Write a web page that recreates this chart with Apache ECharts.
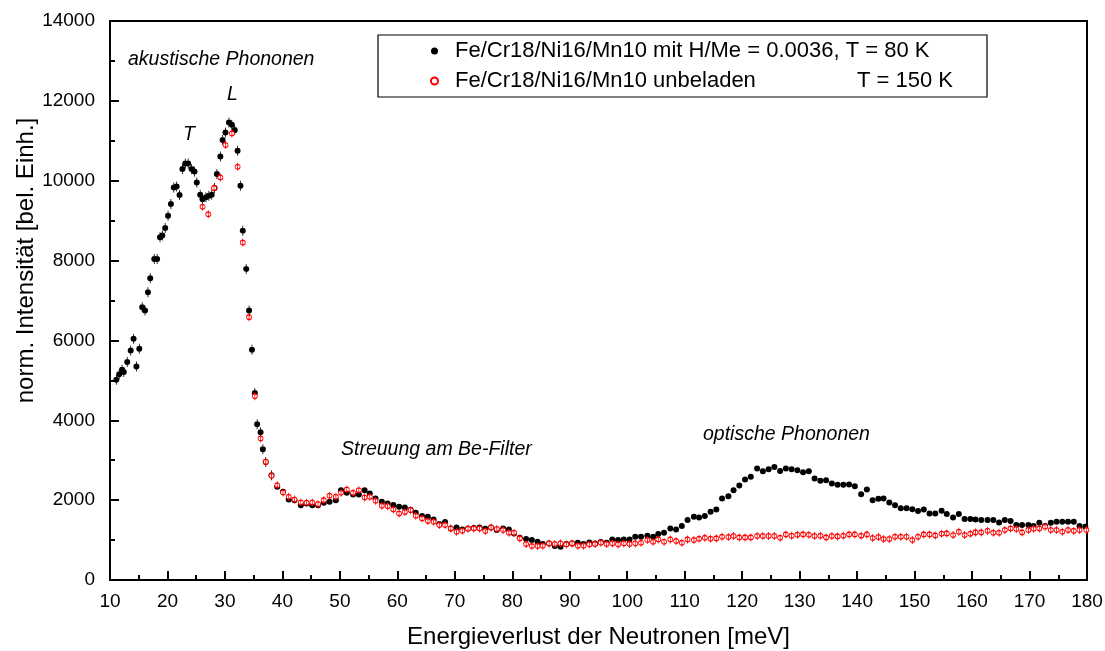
<!DOCTYPE html>
<html>
<head>
<meta charset="utf-8">
<script src="https://cdn.jsdelivr.net/npm/echarts@6/dist/echarts.min.js"></script>
<style>
html,body{margin:0;padding:0;background:#fff;}
#chart{width:1105px;height:651px;}
</style>
</head>
<body>
<div id="chart"></div>
<script>
// ---- data ----
const blackEnergy = [11.1,11.6,12.1,12.4,13.0,13.6,14.1,14.6,15.1,15.6,16.1,16.6,17.0,17.7,18.2,18.7,19.1,19.6,20.1,20.6,21.1,21.6,22.1,22.6,23.1,23.6,24.2,24.7,25.1,25.7,26.1,26.7,27.2,27.7,28.2,28.6,29.2,29.6,30.1,30.7,31.2,31.7,32.2,32.7,33.1,33.7,34.2,34.7,35.2,35.6,36.2,36.6,37.1,38.1,39.1,40.1,41.1,42.1,43.2,44.2,45.2,46.2,47.2,48.2,49.3,50.2,51.2,52.3,53.3,54.3,55.2,56.2,57.3,58.3,59.3,60.3,61.3,62.3,63.2,64.3,65.3,66.3,67.3,68.3,69.3,70.3,71.3,72.3,73.3,74.3,75.3,76.3,77.3,78.4,79.4,80.3,81.3,82.4,83.4,84.4,85.3,86.4,87.4,88.4,89.4,90.4,91.4,92.4,93.4,94.4,95.4,96.4,97.4,98.4,99.4,100.4,101.4,102.4,103.5,104.5,105.4,106.4,107.5,108.5,109.5,110.5,111.6,112.5,113.5,114.5,115.5,116.5,117.6,118.5,119.5,120.5,121.5,122.6,123.6,124.6,125.6,126.6,127.6,128.6,129.6,130.6,131.6,132.6,133.6,134.6,135.6,136.6,137.6,138.6,139.6,140.7,141.7,142.7,143.7,144.6,145.6,146.6,147.6,148.6,149.6,150.6,151.6,152.6,153.6,154.7,155.6,156.7,157.7,158.7,159.7,160.6,161.6,162.7,163.7,164.7,165.7,166.7,167.7,168.7,169.8,170.7,171.7,172.7,173.7,174.7,175.7,176.7,177.7,178.7,179.7];
const blackIntensity = [5017,5150,5267,5208,5458,5750,6042,5350,5792,6833,6750,7208,7558,8042,8042,8583,8625,8817,9125,9417,9833,9858,9642,10292,10433,10433,10292,10233,9958,9650,9533,9583,9625,9650,9817,10167,10608,11017,11208,11458,11400,11267,10750,9875,8750,7792,6750,5767,4683,3900,3700,3275,2958,2625,2333,2208,2017,2000,1875,1917,1875,1875,1933,1958,2000,2250,2183,2142,2142,2250,2167,2042,1960,1917,1880,1833,1817,1760,1683,1600,1583,1517,1400,1450,1292,1317,1267,1292,1300,1317,1283,1317,1250,1292,1267,1167,1058,1025,1000,958,900,917,850,833,900,917,933,900,942,917,950,933,1017,1000,1017,1017,1083,1083,1108,1083,1150,1183,1292,1267,1350,1500,1583,1567,1600,1708,1767,2042,2100,2250,2367,2517,2583,2792,2725,2775,2833,2733,2792,2775,2750,2700,2725,2542,2483,2500,2417,2383,2383,2392,2350,2150,2267,2000,2033,2042,1942,1875,1800,1800,1775,1725,1767,1667,1667,1733,1650,1567,1650,1525,1525,1517,1500,1500,1500,1442,1500,1475,1375,1375,1375,1350,1433,1350,1433,1458,1458,1458,1458,1350,1333];

const redEnergy = [26.1,27.1,28.1,29.2,30.1,31.2,32.2,33.1,34.2,35.2,36.2,37.1,38.1,39.1,40.1,41.1,42.1,43.2,44.2,45.2,46.2,47.2,48.2,49.3,50.2,51.2,52.3,53.3,54.3,55.2,56.2,57.3,58.3,59.3,60.3,61.3,62.3,63.2,64.3,65.3,66.3,67.3,68.3,69.3,70.3,71.3,72.3,73.3,74.3,75.3,76.3,77.3,78.4,79.4,80.3,81.3,82.4,83.4,84.4,85.3,86.4,87.4,88.4,89.4,90.4,91.4,92.4,93.4,94.4,95.4,96.4,97.4,98.4,99.4,100.4,101.4,102.4,103.5,104.5,105.4,106.4,107.5,108.5,109.5,110.5,111.6,112.5,113.5,114.5,115.5,116.5,117.6,118.5,119.5,120.5,121.5,122.6,123.6,124.6,125.6,126.6,127.6,128.6,129.6,130.6,131.6,132.6,133.6,134.6,135.6,136.6,137.6,138.6,139.6,140.7,141.7,142.7,143.7,144.6,145.6,146.6,147.6,148.6,149.6,150.6,151.6,152.6,153.6,154.7,155.6,156.7,157.7,158.7,159.7,160.6,161.6,162.7,163.7,164.7,165.7,166.7,167.7,168.7,169.8,170.7,171.7,172.7,173.7,174.7,175.7,176.7,177.7,178.7,179.9];
const redIntensity = [9350,9158,9817,10083,10892,11183,10350,8450,6583,4600,3542,2958,2608,2375,2192,2083,2017,1942,1933,1942,1900,2000,2108,2083,2183,2267,2183,2250,2067,2083,1983,1858,1850,1767,1667,1700,1750,1608,1542,1475,1458,1375,1375,1292,1208,1233,1283,1292,1292,1225,1317,1275,1250,1183,1183,1042,900,850,850,858,917,900,917,892,917,858,858,892,900,933,900,917,892,917,900,917,933,1000,958,1017,958,1017,975,933,1017,1000,1033,1058,1033,1042,1083,1075,1100,1067,1067,1067,1100,1100,1100,1100,1058,1142,1108,1133,1142,1133,1100,1108,1067,1100,1092,1108,1142,1142,1110,1142,1050,1075,1025,1025,1083,1083,1083,1000,1083,1142,1142,1117,1158,1167,1125,1208,1125,1158,1192,1192,1233,1183,1183,1250,1292,1275,1192,1250,1283,1292,1333,1250,1250,1208,1250,1230,1250,1250];

const seriesNames = ['Fe/Cr18/Ni16/Mn10 mit H/Me = 0.0036, T = 80 K', 'Fe/Cr18/Ni16/Mn10 unbeladen'];
const tempLabel2 = 'T = 150 K';
const xTicks = {min: 10, max: 180, interval: 10, minorInterval: 5};
const yTicks = {min: 0, max: 14000, interval: 2000, minorInterval: 1000};

// ---- build ----
const blackData = blackEnergy.map((e, i) => [e, blackIntensity[i]]);
const redData = redEnergy.map((e, i) => [e, redIntensity[i]]);

const DOT_BAR = 'path://M3,2 A3,3 0 1,1 2.99,2 Z M2.6,0 L3.4,0 L3.4,10 L2.6,10 Z';
const RING_BAR = 'path://M3,2 A3,3 0 1,1 2.99,2 Z M3,0 L3,10';

const FONT = '"Liberation Sans", Arial, sans-serif';
const chart = echarts.init(document.getElementById('chart'), null, {renderer: 'canvas'});

const minorAxisCommon = {
  type: 'value', axisLine: {show: false}, axisLabel: {show: false}, splitLine: {show: false},
  axisTick: {inside: true, length: 5, lineStyle: {color: '#000', width: 2}}
};

chart.setOption({
  animation: false,
  backgroundColor: '#fff',
  grid: {left: 110, right: 18, top: 21, bottom: 71, show: true, borderColor: '#000', borderWidth: 2,
         containLabel: false, outerBoundsMode: 'none'},
  xAxis: [{
    type: 'value', min: xTicks.min, max: xTicks.max, interval: xTicks.interval,
    name: 'Energieverlust der Neutronen [meV]', nameLocation: 'middle', nameGap: 45, nameMoveOverlap: false,
    nameTextStyle: {fontFamily: FONT, fontSize: 24, color: '#000'},
    axisLine: {lineStyle: {color: '#000', width: 2}},
    axisTick: {inside: true, length: 9, lineStyle: {color: '#000', width: 2}},
    axisLabel: {fontFamily: FONT, fontSize: 19, color: '#000', margin: 12},
    splitLine: {show: false}
  }, Object.assign({}, minorAxisCommon, {
    position: 'bottom', min: xTicks.min, max: xTicks.max, interval: xTicks.minorInterval
  })],
  yAxis: [{
    type: 'value', min: yTicks.min, max: yTicks.max, interval: yTicks.interval,
    name: 'norm. Intensität [bel. Einh.]', nameLocation: 'middle', nameGap: 72, nameRotate: 90, nameMoveOverlap: false,
    nameTextStyle: {fontFamily: FONT, fontSize: 24, color: '#000', padding: [0, 0, 0, 80]},
    axisLine: {lineStyle: {color: '#000', width: 2}},
    axisTick: {inside: true, length: 9, lineStyle: {color: '#000', width: 2}},
    axisLabel: {fontFamily: FONT, fontSize: 19, color: '#000', margin: 15, formatter: function (v) { return String(v); }},
    splitLine: {show: false}
  }, Object.assign({}, minorAxisCommon, {
    position: 'left', min: yTicks.min, max: yTicks.max, interval: yTicks.minorInterval
  })],
  legend: {
    left: 378, top: 35, orient: 'vertical',
    padding: [5, 34, 5, 52], itemGap: 8,
    borderColor: '#000', borderWidth: 1.2,
    itemWidth: 7, itemHeight: 7,
    data: [
      {name: seriesNames[0], icon: 'circle', itemStyle: {color: '#000', borderWidth: 0}},
      {name: seriesNames[1], icon: 'emptyCircle', itemStyle: {color: '#ff0000', borderColor: '#ff0000', borderWidth: 1.2}}
    ],
    formatter: function (name) {
      if (name === seriesNames[1]) return '{c|' + name + '}{b|' + tempLabel2 + '}';
      return '{a|' + name + '}';
    },
    textStyle: {
      fontFamily: FONT, fontSize: 22, color: '#000', lineHeight: 22,
      rich: {
        a: {fontFamily: FONT, fontSize: 22, color: '#000', padding: [0, 0, 0, 12]},
        c: {fontFamily: FONT, fontSize: 22, color: '#000', padding: [0, 0, 0, 12], width: 402},
        b: {fontFamily: FONT, fontSize: 22, color: '#000', width: 96, align: 'right'}
      }
    }
  },
  series: [
    {
      name: seriesNames[0], type: 'scatter', data: blackData,
      symbol: function (v) { return (v[1] > 2500 && v[0] < 40) ? DOT_BAR : 'circle'; },
      symbolSize: function (v) { return (v[1] > 2500 && v[0] < 40) ? [6, 10] : 6; },
      itemStyle: {color: '#000', opacity: 1},
      z: 2
    },
    {
      name: seriesNames[1], type: 'scatter', data: redData,
      symbol: RING_BAR, symbolSize: [5, 8],
      itemStyle: {color: '#fff', borderColor: '#ff0000', borderWidth: 1, opacity: 1},
      z: 3
    }
  ],
  graphic: [
    {type: 'text', left: 128, top: 50, style: {text: 'akustische Phononen', font: 'italic 19.5px ' + FONT, fill: '#000'}},
    {type: 'text', left: 183, top: 125, style: {text: 'T', font: 'italic 19.5px ' + FONT, fill: '#000'}},
    {type: 'text', left: 227, top: 85, style: {text: 'L', font: 'italic 19.5px ' + FONT, fill: '#000'}},
    {type: 'text', left: 341, top: 440, style: {text: 'Streuung am Be-Filter', font: 'italic 19.5px ' + FONT, fill: '#000'}},
    {type: 'text', left: 703, top: 425, style: {text: 'optische Phononen', font: 'italic 19.5px ' + FONT, fill: '#000'}}
  ]
});
</script>
</body>
</html>
